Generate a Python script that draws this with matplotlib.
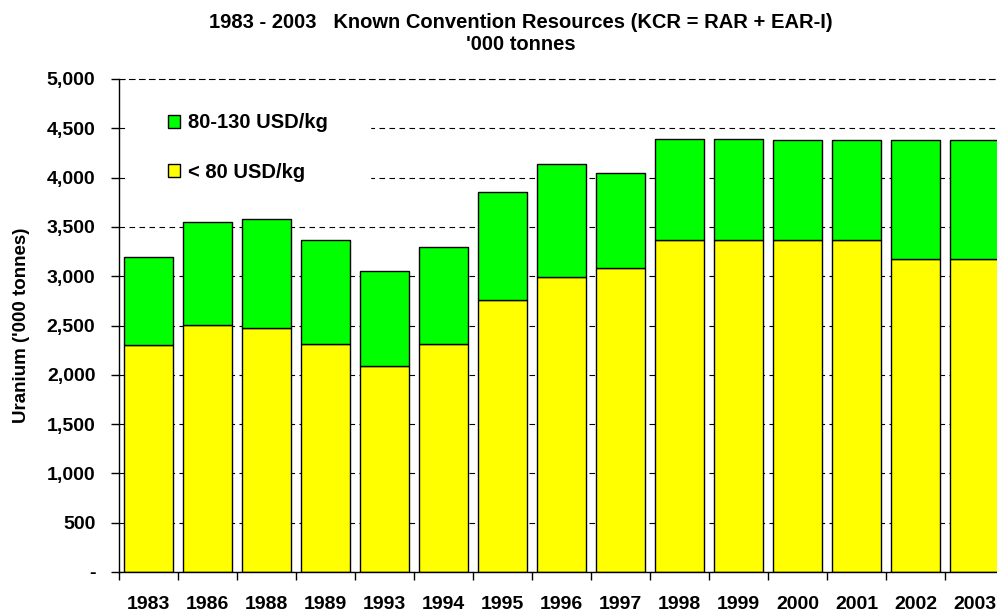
import numpy as np
import matplotlib
matplotlib.use('Agg')
import matplotlib.pyplot as plt
from matplotlib.ticker import FuncFormatter

plt.rcParams['font.family'] = ['Liberation Sans', 'DejaVu Sans']
plt.rcParams['font.weight'] = 'bold'

# data ('000 tonnes)
years = ['1983', '1986', '1988', '1989', '1993', '1994', '1995', '1996',
         '1997', '1998', '1999', '2000', '2001', '2002', '2003']
below_80 = [2300, 2505, 2475, 2312, 2090, 2312, 2760, 2990,
            3085, 3367, 3367, 3367, 3367, 3175, 3175]
total_130 = [3190, 3550, 3580, 3367, 3053, 3296, 3855, 4140,
             4050, 4390, 4390, 4385, 4385, 4385, 4385]
band_80_130 = [t - b for t, b in zip(total_130, below_80)]

fig = plt.figure(figsize=(9.97, 6.14), dpi=100)
# plot area runs a little past the right edge, like the original
ax = fig.add_axes([119 / 997, 1 - 572 / 614, 885 / 997, (572 - 79) / 614])

x = np.arange(len(years))
w = 0.83
ax.bar(x, below_80, w, color='#FFFF00', edgecolor='black', linewidth=1.0,
       label='< 80 USD/kg', zorder=2)
ax.bar(x, band_80_130, w, bottom=below_80, color='#00FF00', edgecolor='black',
       linewidth=1.0, label='80-130 USD/kg', zorder=2)

ax.set_xlim(-0.5, len(years) - 0.5)
ax.set_ylim(0, 5000)
ax.set_yticks(np.arange(0, 5001, 500))
ax.yaxis.set_major_formatter(FuncFormatter(lambda v, p: '-' if v == 0 else f'{int(v):,}'))
dash = (0, (5, 4))
ax.yaxis.grid(True, linestyle=dash, color='black', linewidth=0.8, zorder=0)
ax.set_axisbelow(True)

# ticks between the categories, labels at the centres
ax.set_xticks(np.arange(-0.5, len(years), 1.0))
ax.set_xticklabels([])
ax.set_xticks(x, minor=True)
ax.set_xticklabels(years, minor=True, fontsize=14, fontweight='bold')
ax.tick_params(axis='x', which='minor', length=0, pad=17)
ax.tick_params(axis='x', which='major', length=6, direction='out', width=1)
ax.tick_params(axis='y', length=6, direction='out', width=1, labelsize=14, pad=11)
for t in ax.get_yticklabels():
    t.set_fontweight('bold')

ax.spines['right'].set_visible(False)
# top gridline stays visible above the legend box -> dashed top spine
ax.spines['top'].set_linestyle(dash)
ax.spines['top'].set_linewidth(0.8)
ax.spines['top'].set_zorder(3)
ax.spines['left'].set_linewidth(1)
ax.spines['bottom'].set_linewidth(1)

ax.set_ylabel("Uranium ('000 tonnes)", fontsize=13.5, fontweight='bold', labelpad=12)

handles, labels = ax.get_legend_handles_labels()
leg = ax.legend(handles[::-1], labels[::-1], loc='upper left',
                bbox_to_anchor=(0.008, 1.016), borderaxespad=0,
                prop={'size': 14.5, 'weight': 'bold'},
                frameon=True, facecolor='white', edgecolor='white', framealpha=1,
                fancybox=False, borderpad=2.1, labelspacing=1.5,
                handlelength=0.6, handleheight=0.6, handletextpad=0.35)
leg.set_zorder(1)

fig.text(521 / 997, 1 - 33 / 614,
         "1983 - 2003   Known Convention Resources (KCR = RAR + EAR-I)\n'000 tonnes",
         ha='center', va='center', fontsize=14.5, fontweight='bold', linespacing=1.2)

fig.savefig('out.png', dpi=100)
